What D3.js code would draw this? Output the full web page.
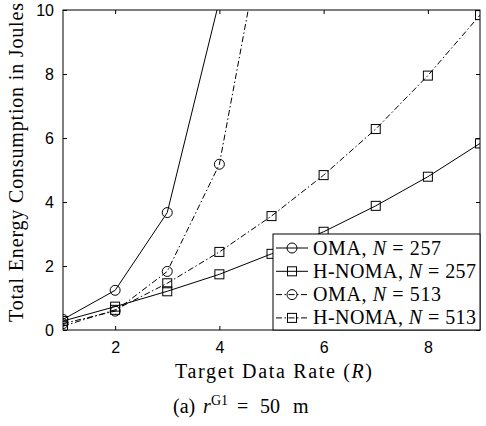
<!DOCTYPE html>
<html>
<head>
<style>
  body { margin: 0; background: #fff; }
  svg { display: block; }
  .tick-label { font-family: "Liberation Sans", Arial, sans-serif; font-size: 16px; }
  .serif { font-family: "Liberation Serif", "Times New Roman", serif; }
</style>
</head>
<body>
<svg width="486" height="426"></svg>
<script src="https://d3js.org/d3.v7.min.js"></script>
<script>
// data
var rates = [1, 2, 3, 4, 5, 6, 7, 8, 9];
var omaN257 = [0.33, 1.24, 3.67, 10.3];
var hnomaN257 = [0.28, 0.73, 1.21, 1.74, 2.38, 3.07, 3.88, 4.79, 5.83];
var omaN513 = [0.2, 0.59, 1.83, 5.18, 13.9];
var hnomaN513 = [0.12, 0.63, 1.46, 2.44, 3.56, 4.84, 6.28, 7.95, 9.84];
var xTicks = [2, 4, 6, 8];
var yTicks = [0, 2, 4, 6, 8, 10];

var series = [
  { name: "OMA", n: 257, values: omaN257, marker: "circle", dash: null },
  { name: "H-NOMA", n: 257, values: hnomaN257, marker: "square", dash: null },
  { name: "OMA", n: 513, values: omaN513, marker: "circle", dash: "6,2.5,1.5,2.5" },
  { name: "H-NOMA", n: 513, values: hnomaN513, marker: "square", dash: "6,2.5,1.5,2.5" }
];

var svg = d3.select("svg"),
    margin = { top: 10, right: 6, bottom: 96, left: 63 },
    width = +svg.attr("width") - margin.left - margin.right,
    height = +svg.attr("height") - margin.top - margin.bottom,
    g = svg.append("g").attr("transform", "translate(" + margin.left + "," + margin.top + ")");

var x = d3.scaleLinear().domain([1, 9]).range([0, width]);
var y = d3.scaleLinear().domain([0, 10]).range([height, 0]);

svg.append("defs").append("clipPath").attr("id", "plot")
  .append("rect").attr("width", width).attr("height", height);

// axes with inward ticks, mirrored on top and right
g.append("g").attr("transform", "translate(0," + height + ")")
  .call(d3.axisBottom(x).tickValues(xTicks).tickSizeInner(-4).tickSizeOuter(0).tickPadding(12));
g.append("g")
  .call(d3.axisLeft(y).tickValues(yTicks).tickSizeInner(-4).tickSizeOuter(0).tickPadding(9));
g.append("g").call(d3.axisTop(x).tickValues(xTicks).tickSizeInner(-4).tickSizeOuter(0).tickFormat(""));
g.append("g").attr("transform", "translate(" + width + ",0)")
  .call(d3.axisRight(y).tickValues(yTicks).tickSizeInner(-4).tickSizeOuter(0).tickFormat(""));
g.selectAll(".domain").remove();
g.selectAll(".tick text").attr("class", "tick-label").attr("fill", "#000");
g.selectAll(".tick line").attr("stroke", "#000");

g.append("rect").attr("width", width).attr("height", height)
  .attr("fill", "none").attr("stroke", "#000").attr("stroke-width", 1);

var line = d3.line()
  .x(function (d, i) { return x(rates[i]); })
  .y(function (d) { return y(d); });

var plot = g.append("g").attr("clip-path", "url(#plot)");

function drawMarker(sel, type, cx, cy) {
  if (type === "circle") {
    sel.append("circle").attr("cx", cx).attr("cy", cy).attr("r", 5)
      .attr("fill", "none").attr("stroke", "#000").attr("stroke-width", 1);
  } else {
    sel.append("rect").attr("x", cx - 4.5).attr("y", cy - 4.5).attr("width", 9).attr("height", 9)
      .attr("fill", "none").attr("stroke", "#000").attr("stroke-width", 1);
  }
}

series.forEach(function (s) {
  plot.append("path")
    .datum(s.values)
    .attr("fill", "none")
    .attr("stroke", "#000")
    .attr("stroke-width", 1)
    .attr("stroke-dasharray", s.dash)
    .attr("d", line);
  s.values.forEach(function (v, i) {
    drawMarker(plot, s.marker, x(rates[i]), y(v));
  });
});

// legend
var legW = 207, legH = 96, rowH = 23.3;
var leg = g.append("g").attr("transform", "translate(" + (width - legW) + "," + (height - legH) + ")");
leg.append("rect").attr("width", legW).attr("height", legH)
  .attr("fill", "#fff").attr("stroke", "#000").attr("stroke-width", 1);
series.forEach(function (s, i) {
  var yy = 14 + i * rowH;
  leg.append("line").attr("x1", 3).attr("x2", 35).attr("y1", yy).attr("y2", yy)
    .attr("stroke", "#000").attr("stroke-width", 1).attr("stroke-dasharray", s.dash);
  drawMarker(leg, s.marker, 19, yy);
  var t = leg.append("text").attr("class", "serif").attr("x", 40).attr("y", yy + 6.5)
    .style("font-size", "20px")
    .attr("textLength", s.name === "OMA" ? 128 : 163).attr("lengthAdjust", "spacing");
  t.append("tspan").text(s.name + ", ");
  t.append("tspan").style("font-style", "italic").text("N");
  t.append("tspan").text(" = " + s.n);
});

// axis titles
svg.append("text").attr("class", "serif")
  .attr("x", 175).attr("y", 378)
  .style("font-size", "20px")
  .attr("textLength", 197).attr("lengthAdjust", "spacing")
  .call(function (t) {
    t.append("tspan").text("Target Data Rate (");
    t.append("tspan").style("font-style", "italic").text("R");
    t.append("tspan").text(")");
  });

svg.append("text").attr("class", "serif")
  .attr("transform", "translate(23,322) rotate(-90)")
  .style("font-size", "20px")
  .attr("textLength", 319).attr("lengthAdjust", "spacing")
  .text("Total Energy Consumption in Joules");

var cap = svg.append("text").attr("class", "serif")
  .attr("y", 413).style("font-size", "20px");
cap.append("tspan").attr("x", 173).text("(a)");
cap.append("tspan").attr("x", 203).style("font-style", "italic").text("r");
cap.append("tspan").attr("x", 211).attr("dy", -8).style("font-size", "14px").text("G1");
cap.append("tspan").attr("x", 237).attr("dy", 8).text("=");
cap.append("tspan").attr("x", 260).text("50");
cap.append("tspan").attr("x", 293).text("m");
</script>
</body>
</html>
